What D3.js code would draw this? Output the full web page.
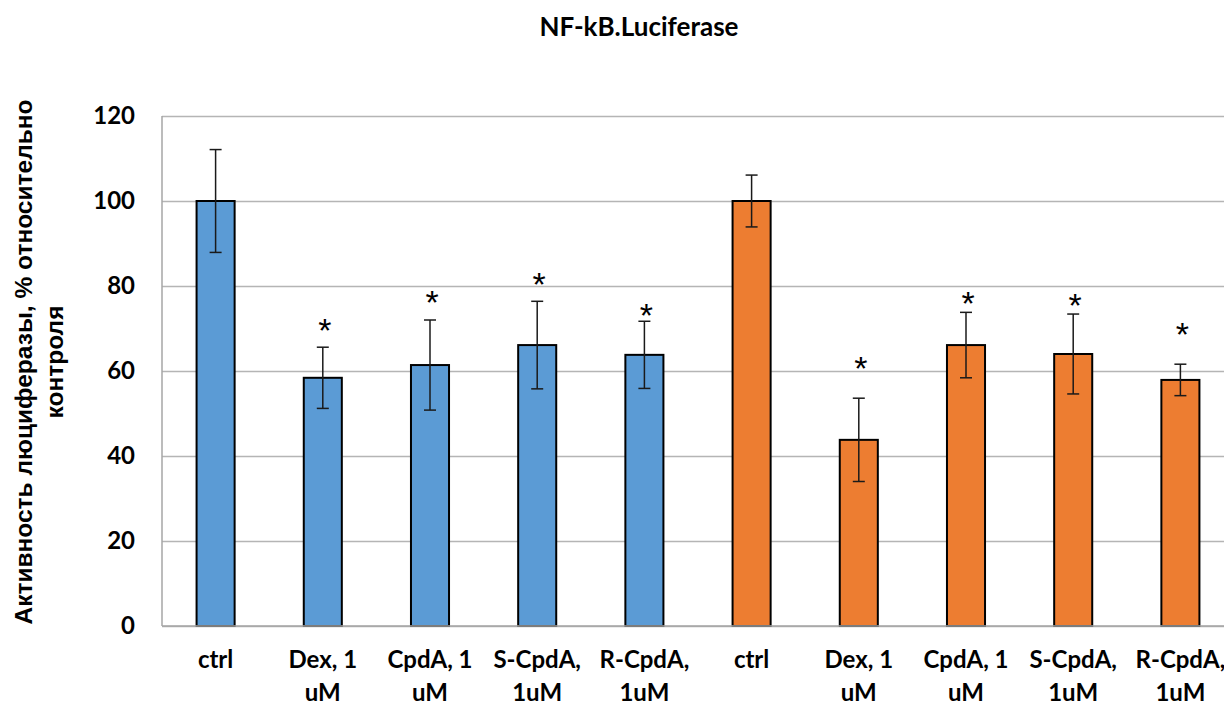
<!DOCTYPE html>
<html>
<head>
<meta charset="utf-8">
<script src="https://cdn.jsdelivr.net/npm/d3@7"></script>
<style>
  body { margin: 0; background: #fff; }
  svg { display: block; }
</style>
</head>
<body>
<div id="chart"></div>
<script>
// data
const labels = [
  ["ctrl"], ["Dex, 1", "uM"], ["CpdA, 1", "uM"], ["S-CpdA,", "1uM"], ["R-CpdA,", "1uM"],
  ["ctrl"], ["Dex, 1", "uM"], ["CpdA, 1", "uM"], ["S-CpdA,", "1uM"], ["R-CpdA,", "1uM"]
];
const groups = ["blue", "blue", "blue", "blue", "blue", "orange", "orange", "orange", "orange", "orange"];
const values = [100, 58.4, 61.4, 66.1, 63.8, 100, 43.8, 66.1, 64.0, 57.9];
const errors = [12.1, 7.2, 10.6, 10.3, 7.9, 6.1, 9.8, 7.7, 9.4, 3.7];
const stars = [null, 71.6, 78.3, 82.4, 75.1, null, 62.6, 77.9, 77.5, 70.8];
const yTicks = [0, 20, 40, 60, 80, 100, 120];

const colors = { blue: "#5b9bd5", orange: "#ed7d31" };

const W = 1224, H = 706;
const margin = { top: 116, right: -10, bottom: 80, left: 162 };
const width = W - margin.left - margin.right;
const height = H - margin.top - margin.bottom;

const svg = d3.select("#chart").append("svg")
  .attr("width", W)
  .attr("height", H);

const g = svg.append("g")
  .attr("transform", `translate(${margin.left}, ${margin.top})`);

const idx = d3.range(values.length);

const x = d3.scaleBand()
  .domain(idx)
  .range([0, width])
  .paddingInner(0.645)
  .paddingOuter(0.3225);

const y = d3.scaleLinear()
  .domain([0, 120])
  .range([height, 0]);

// gridlines
g.append("g")
  .call(d3.axisLeft(y).tickValues(yTicks).tickSize(-width).tickFormat(""))
  .call(s => s.select(".domain").remove())
  .selectAll("line")
  .attr("stroke", "#b5b5b5")
  .attr("stroke-width", 1.5);

// left axis line
g.append("line")
  .attr("x1", 0).attr("x2", 0)
  .attr("y1", y(0)).attr("y2", y(120))
  .attr("stroke", "#a6a6a6")
  .attr("stroke-width", 1.5);

// y tick labels
g.append("g")
  .call(d3.axisLeft(y).tickValues(yTicks).tickSize(0).tickPadding(27))
  .call(s => s.select(".domain").remove())
  .selectAll("text")
  .style("font-family", "Lato, 'Open Sans', sans-serif")
  .style("font-weight", "bold")
  .style("font-size", "24px")
  .attr("fill", "#000");

// bars
g.selectAll(".bar")
  .data(idx)
  .enter()
  .append("rect")
  .attr("class", "bar")
  .attr("x", i => x(i))
  .attr("y", i => y(values[i]))
  .attr("width", x.bandwidth())
  .attr("height", i => y(0) - y(values[i]))
  .attr("fill", i => colors[groups[i]])
  .attr("stroke", "#000")
  .attr("stroke-width", 2);

// bottom axis line on top of bars
g.append("line")
  .attr("x1", 0).attr("x2", width)
  .attr("y1", y(0)).attr("y2", y(0))
  .attr("stroke", "#a6a6a6")
  .attr("stroke-width", 1.5);

// error bars
const cap = 6;
const eb = g.selectAll(".err")
  .data(idx)
  .enter()
  .append("g")
  .attr("class", "err")
  .attr("stroke", "#1a1a1a")
  .attr("stroke-width", 1.5);

eb.append("line")
  .attr("x1", i => x(i) + x.bandwidth() / 2)
  .attr("x2", i => x(i) + x.bandwidth() / 2)
  .attr("y1", i => y(values[i] + errors[i]))
  .attr("y2", i => y(values[i] - errors[i]));

eb.append("line")
  .attr("x1", i => x(i) + x.bandwidth() / 2 - cap)
  .attr("x2", i => x(i) + x.bandwidth() / 2 + cap)
  .attr("y1", i => y(values[i] + errors[i]))
  .attr("y2", i => y(values[i] + errors[i]));

eb.append("line")
  .attr("x1", i => x(i) + x.bandwidth() / 2 - cap)
  .attr("x2", i => x(i) + x.bandwidth() / 2 + cap)
  .attr("y1", i => y(values[i] - errors[i]))
  .attr("y2", i => y(values[i] - errors[i]));

// significance stars
g.selectAll(".star")
  .data(idx.filter(i => stars[i] != null))
  .enter()
  .append("text")
  .attr("class", "star")
  .attr("x", i => x(i) + x.bandwidth() / 2 + 2)
  .attr("y", i => y(stars[i]))
  .attr("dy", "0.6em")
  .attr("text-anchor", "middle")
  .style("font-family", "'Liberation Sans', Arial, sans-serif")
  .style("font-size", "34px")
  .text("*");

// x labels, two lines
const xl = g.selectAll(".xlab")
  .data(idx)
  .enter()
  .append("text")
  .attr("class", "xlab")
  .attr("text-anchor", "middle")
  .style("font-family", "Lato, 'Open Sans', sans-serif")
  .style("font-weight", "bold")
  .style("font-size", "24px");

xl.selectAll("tspan")
  .data(i => labels[i].map(t => ({ t, i })))
  .enter()
  .append("tspan")
  .attr("x", d => x(d.i) + x.bandwidth() / 2)
  .attr("y", (d, k) => height + 42 + k * 33)
  .text(d => d.t);

// y axis title
const yt = svg.append("text")
  .attr("transform", `translate(0, 362) rotate(-90)`)
  .attr("text-anchor", "middle")
  .style("font-family", "'Liberation Sans', Arial, sans-serif")
  .style("font-weight", "bold")
  .style("font-size", "24.5px");

yt.append("tspan").attr("x", 0).attr("y", 32).text("Активность люциферазы, % относительно");
yt.append("tspan").attr("x", 0).attr("y", 63).text("контроля");

// title
svg.append("text")
  .attr("x", 639)
  .attr("y", 36)
  .attr("text-anchor", "middle")
  .style("font-family", "Lato, 'Open Sans', sans-serif")
  .style("font-weight", "bold")
  .style("font-size", "26px")
  .text("NF-kB.Luciferase");
</script>
</body>
</html>
